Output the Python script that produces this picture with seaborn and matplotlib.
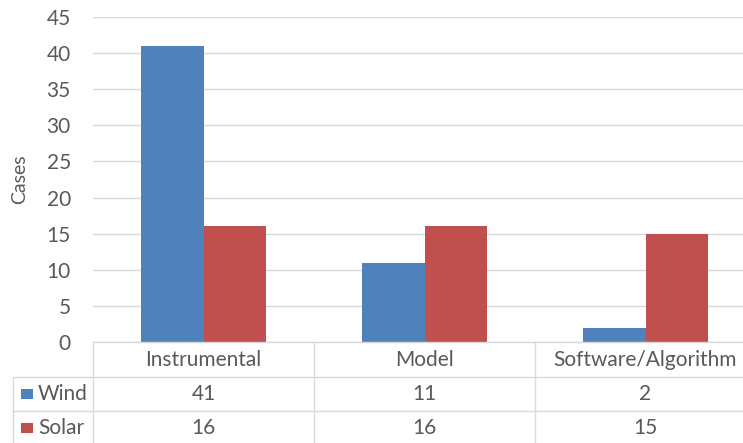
import matplotlib
matplotlib.use("Agg")
import matplotlib.pyplot as plt
from matplotlib.lines import Line2D
from matplotlib.patches import Rectangle
import matplotlib.transforms as mtransforms
import seaborn as sns
import pandas as pd

categories = ["Instrumental", "Model", "Software/Algorithm"]
series = ["Wind", "Solar"]
wind = [41, 11, 2]
solar = [16, 16, 15]
colors = ["#4F81BD", "#C0504D"]
yticks = [0, 5, 10, 15, 20, 25, 30, 35, 40, 45]

df = pd.DataFrame({
    "category": categories * 2,
    "series": [series[0]] * 3 + [series[1]] * 3,
    "cases": wind + solar,
})

sns.set_theme(style="white")
plt.rcParams["font.family"] = ["Lato", "DejaVu Sans"]
text_color = "#595959"
grid_color = "#D9D9D9"
fs = 15

W, H = 743, 443
fig = plt.figure(figsize=(W / 100, H / 100), dpi=100)
ax = fig.add_axes([93 / W, 1 - 342 / H, (756 - 93) / W, 325 / H])

sns.barplot(data=df, x="category", y="cases", hue="series", order=categories,
            hue_order=series, palette=colors, width=0.57, saturation=1,
            linewidth=0, legend=False, ax=ax)

ax.set_ylim(0, 45)
ax.set_xlim(-0.5, len(categories) - 0.5)
ax.set_yticks(yticks)
ax.yaxis.grid(True, color=grid_color, linewidth=1)
ax.set_axisbelow(True)
for s in ax.spines.values():
    s.set_visible(False)
ax.tick_params(axis="y", length=0, pad=16, labelsize=fs, labelcolor=text_color)
ax.set_xticks([])
ax.set_xlabel("")
ax.set_ylabel("Cases", fontsize=14, color=text_color, labelpad=13)

# data table under the plot
ppx = 1 / 325.0  # axes fraction per pixel (vertical)
def ay(p):
    return (342 - p) * ppx

blend = mtransforms.blended_transform_factory(ax.transData, ax.transAxes)
fig_x = mtransforms.blended_transform_factory(fig.transFigure, ax.transAxes)

line_kw = dict(color=grid_color, linewidth=1, clip_on=False)
right = len(categories) - 0.5
# horizontal rules
ax.add_line(Line2D([-0.5, right], [ay(342), ay(342)], transform=blend, **line_kw))
for yp in (377, 411):
    ax.add_line(Line2D([13 / W, 1.02], [ay(yp), ay(yp)], transform=fig_x, **line_kw))
# vertical rules
ax.add_line(Line2D([13 / W, 13 / W], [ay(377), ay(445)], transform=fig_x, **line_kw))
for xb in [-0.5 + i for i in range(len(categories) + 1)]:
    ax.add_line(Line2D([xb, xb], [ay(342), ay(445)], transform=blend, **line_kw))

tkw = dict(ha="center", va="center", fontsize=fs, color=text_color, clip_on=False)
for i, cat in enumerate(categories):
    ax.text(i, ay(360), cat, transform=blend, **tkw)
    ax.text(i, ay(394), str(wind[i]), transform=blend, **tkw)
    ax.text(i, ay(428), str(solar[i]), transform=blend, **tkw)

for name, col, yp in zip(series, colors, (394, 428)):
    ax.add_patch(Rectangle((21 / W, ay(yp) - 5 * ppx), 12 / W, 10 * ppx,
                           transform=fig_x, facecolor=col, edgecolor="none",
                           clip_on=False))
    ax.text(38 / W, ay(yp), name, transform=fig_x, ha="left", va="center",
            fontsize=fs, color=text_color, clip_on=False)

fig.savefig("out.png", dpi=100)
